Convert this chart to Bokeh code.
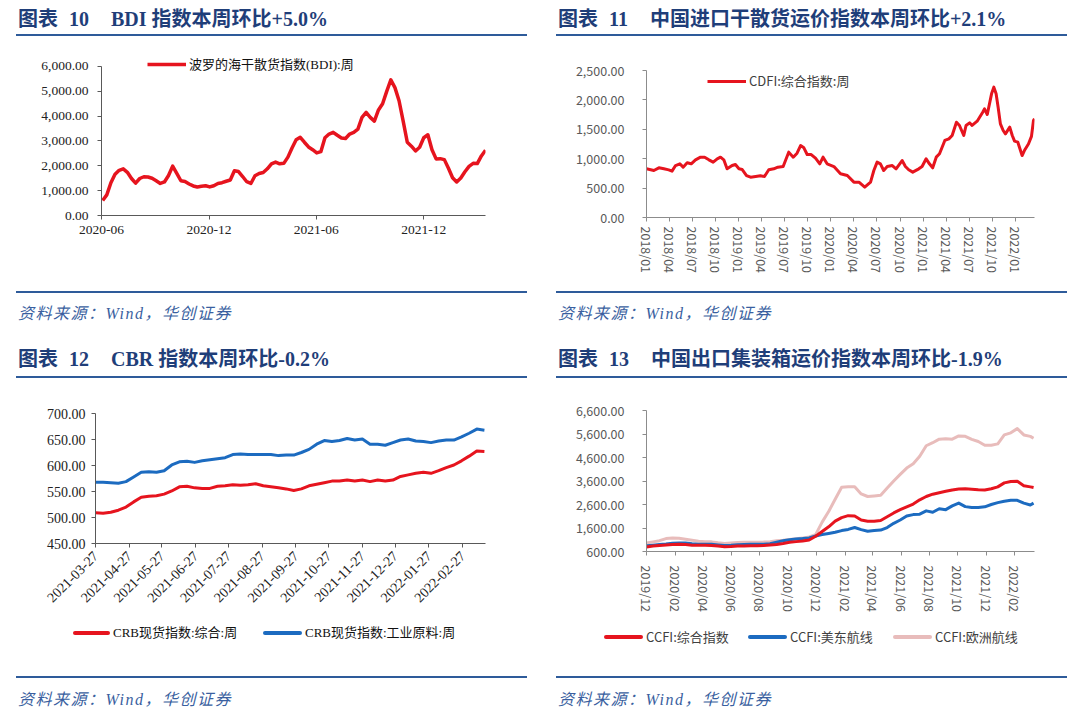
import math
import pandas as pd
from bokeh.plotting import figure
from bokeh.models import (Range1d, FixedTicker, NumeralTickFormatter, DatetimeTickFormatter,
                          Legend, LegendItem, Div)
from bokeh.layouts import column, row
from bokeh.embed import file_html
from bokeh.resources import INLINE

# ---------------- data ----------------
# Chart 10: BDI weekly
bdi_start = "2020-06-03"
bdi_values = [600, 830, 1320, 1660, 1820, 1880, 1740, 1490, 1300, 1490,
              1560, 1550, 1500, 1400, 1290, 1350, 1610, 1990, 1700, 1400,
              1370, 1270, 1190, 1150, 1180, 1200, 1150, 1200, 1290, 1320,
              1380, 1430, 1800, 1770, 1570, 1360, 1290, 1600, 1690, 1730,
              1880, 2080, 2150, 2080, 2100, 2350, 2720, 3050, 3150, 2950,
              2760, 2650, 2520, 2570, 3130, 3280, 3350, 3230, 3120, 3100,
              3280, 3350, 3480, 3950, 4150, 3950, 3800, 4250, 4500, 5000,
              5460, 5150, 4620, 3800, 2950, 2790, 2600, 2750, 3130, 3250,
              2650, 2280, 2290, 2250, 1900, 1520, 1350, 1510, 1760, 1980,
              2100, 2090, 2400, 2630]
bdi_ticks = ["2020-06-01", "2020-12-01", "2021-06-01", "2021-12-01"]

# Chart 11: CDFI (days since 2018-01-01, value)
cdfi_origin = "2018-01-01"
cdfi_days = [0, 29, 49, 69, 88, 101, 115, 132, 145, 161,
             177, 194, 214, 230, 247, 264, 280, 293, 306, 319,
             339, 352, 366, 379, 396, 412, 432, 451, 467, 484,
             504, 520, 541, 563, 581, 596, 610, 623, 636, 652,
             669, 686, 699, 715, 742, 768, 795, 821, 841, 864,
             887, 900, 913, 926, 939, 953, 973, 988, 1012, 1025,
             1038, 1054, 1078, 1091, 1107, 1120, 1133, 1147, 1160, 1181,
             1197, 1210, 1227, 1239, 1256, 1265, 1279, 1289, 1309, 1331,
             1338, 1349, 1366, 1375, 1384, 1392, 1401, 1412, 1421, 1438,
             1448, 1457, 1470, 1487, 1496, 1512, 1524, 1532, 1536]
cdfi_values = [828, 800, 845, 828, 810, 788, 884, 913, 856, 930,
               913, 981, 1026, 1026, 981, 941, 998, 1026, 981, 828,
               884, 901, 828, 816, 714, 686, 697, 709, 697, 811,
               828, 856, 867, 1111, 1026, 1094, 1224, 1185, 1071, 1071,
               1009, 913, 1026, 913, 867, 743, 714, 601, 601, 516,
               601, 799, 941, 913, 799, 867, 884, 828, 969, 867,
               811, 771, 828, 867, 998, 913, 845, 1026, 1083, 1310,
               1338, 1395, 1621, 1565, 1395, 1565, 1610, 1565, 1638, 1791,
               1848, 1752, 2103, 2217, 2103, 1876, 1593, 1480, 1423, 1536,
               1395, 1298, 1281, 1054, 1139, 1250, 1380, 1650, 1680]
cdfi_ticks = ["2018-01-01", "2018-04-01", "2018-07-01", "2018-10-01",
              "2019-01-01", "2019-04-01", "2019-07-01", "2019-10-01",
              "2020-01-01", "2020-04-01", "2020-07-01", "2020-10-01",
              "2021-01-01", "2021-04-01", "2021-07-01", "2021-10-01",
              "2022-01-01"]

# Chart 12: CRB weekly
crb_start = "2021-03-27"
crb_all = [509, 508, 510, 514, 520, 530, 539, 541, 542, 545,
           551, 559, 560, 557, 556, 556, 560, 561, 563, 562,
           563, 565, 561, 559, 557, 555, 552, 555, 561, 564,
           567, 570, 570, 572, 570, 572, 569, 572, 570, 572,
           579, 582, 585, 587, 585, 590, 596, 601, 609, 618,
           628, 627]
crb_ind = [568, 568, 567, 566, 569, 578, 587, 588, 587, 590,
           601, 607, 608, 606, 609, 611, 613, 615, 621, 622,
           621, 621, 621, 621, 619, 620, 620, 625, 631, 641,
           648, 646, 648, 652, 649, 651, 641, 641, 639, 644,
           649, 651, 647, 646, 644, 647, 649, 649, 655, 662,
           670, 668]
crb_ticks = ["2021-03-27", "2021-04-27", "2021-05-27", "2021-06-27",
             "2021-07-27", "2021-08-27", "2021-09-27", "2021-10-27",
             "2021-11-27", "2021-12-27", "2022-01-27", "2022-02-27"]
crb_labels = ["CRB现货指数:综合:周", "CRB现货指数:工业原料:周"]

# Chart 13: CCFI biweekly + last week
ccfi_start = "2019-12-06"
ccfi_last = "2022-03-18"
ccfi_comp = [790, 830, 860, 880, 900, 905, 895, 870, 866, 866,
             860, 830, 800, 810, 830, 838, 840, 845, 860, 880,
             900, 940, 990, 1020, 1050, 1090, 1250, 1450, 1650,
             1890, 2040, 2125, 2110, 1940, 1890, 1885, 1920, 2080, 2240,
             2380, 2500, 2620, 2800, 2940, 3040, 3100, 3160, 3220, 3255,
             3270, 3250, 3230, 3220, 3270, 3350, 3520, 3580, 3590, 3400,
             3350, 3320]
ccfi_useast = [840, 870, 900, 920, 950, 965, 960, 930, 910, 905,
               905, 880, 860, 870, 890, 900, 905, 905, 910, 930,
               1000, 1060, 1100, 1130, 1150, 1180, 1260, 1320, 1370,
               1420, 1490, 1540, 1620, 1530, 1460, 1490, 1510, 1620, 1800,
               1940, 2110, 2170, 2190, 2330, 2270, 2420, 2380, 2540, 2660,
               2510, 2475, 2475, 2500, 2600, 2680, 2740, 2780, 2780, 2660,
               2580, 2660]
ccfi_europe = [960, 1010, 1060, 1150, 1175, 1160, 1120, 1080, 1040, 1020,
               1010, 970, 940, 960, 980, 990, 990, 995, 1000, 1020,
               1060, 1080, 1110, 1140, 1170, 1220, 1320, 1850, 2300,
               2825, 3330, 3356, 3356, 3050, 2940, 2964, 2990, 3300, 3600,
               3880, 4150, 4330, 4650, 5100, 5230, 5380, 5400, 5380, 5520,
               5500, 5370, 5280, 5120, 5120, 5180, 5560, 5650, 5830, 5560,
               5500, 5420]
ccfi_ticks = ["2019-12-06", "2020-02-06", "2020-04-06", "2020-06-06",
              "2020-08-06", "2020-10-06", "2020-12-06", "2021-02-06",
              "2021-04-06", "2021-06-06", "2021-08-06", "2021-10-06",
              "2021-12-06", "2022-02-06"]
ccfi_labels = ["CCFI:综合指数", "CCFI:美东航线", "CCFI:欧洲航线"]

titles = [("图表", "10", "BDI 指数本周环比+5.0%"),
          ("图表", "11", "中国进口干散货运价指数本周环比+2.1%"),
          ("图表", "12", "CBR 指数本周环比-0.2%"),
          ("图表", "13", "中国出口集装箱运价指数本周环比-1.9%")]
source_text = "资料来源：Wind，华创证券"

# ---------------- styles ----------------
RED = "#E6141E"
BLUE = "#1C6BC0"
PINK = "#E8BCBB"
NAVY = "#1F3E79"
RULE = "#2E5B9A"
SRC = "#3A5FA0"
SERIF = "Liberation Serif, Noto Sans CJK SC"
SANS = "Noto Sans CJK SC"


def ms(d):
    return pd.Timestamp(d).value // 10**6


def dfmt(f):
    return DatetimeTickFormatter(microseconds=f, milliseconds=f, seconds=f, minsec=f,
                                 minutes=f, hourmin=f, hours=f, days=f, months=f, years=f)


def make_fig(w, h, bl, br, bt, bb, xr, yr):
    p = figure(width=w, height=h, x_axis_type="datetime", x_range=xr, y_range=yr,
               output_backend="svg", toolbar_location=None,
               min_border_left=bl, min_border_right=br, min_border_top=bt, min_border_bottom=bb)
    p.margin = 0
    p.outline_line_color = None
    p.xgrid.visible = False
    p.ygrid.visible = False
    return p


def style_axes(p, font, size, color, axis_color, xstand, ystand):
    for ax in (p.xaxis[0], p.yaxis[0]):
        ax.axis_line_color = axis_color
        ax.axis_line_width = 1
        ax.major_tick_line_color = axis_color
        ax.minor_tick_line_color = None
        ax.major_tick_in = 0
        ax.major_tick_out = 4
        ax.major_label_text_font = font
        ax.major_label_text_font_size = size
        ax.major_label_text_color = color
    p.xaxis[0].major_label_standoff = xstand
    p.yaxis[0].major_label_standoff = ystand


def add_legend(p, label, r, vx, vy, font, color):
    lg = Legend(items=[LegendItem(label=label, renderers=[r])], location=(vx, vy),
                orientation="horizontal", background_fill_alpha=0, border_line_alpha=0,
                padding=0, margin=0, spacing=0, glyph_width=39, glyph_height=16,
                label_height=16, label_standoff=3, label_text_font=font,
                label_text_font_size="13px", label_text_color=color)
    p.add_layout(lg, "center")


def html_legend(w, h, cy, items, font, tcolor):
    parts = [f'<div style="position:relative;width:{w}px;height:{h}px;">']
    for label, color, x, gw in items:
        parts.append(f'<div style="position:absolute;left:{x}px;top:{cy - 2}px;width:{gw}px;'
                     f'height:4px;border-radius:2px;background:{color};"></div>')
        parts.append(f'<div style="position:absolute;left:{x + gw + 3}px;top:{cy - 10}px;'
                     f'line-height:20px;font-family:{font};font-size:13px;color:{tcolor};'
                     f'white-space:nowrap;">{label}</div>')
    parts.append('</div>')
    return Div(text="".join(parts), width=w, height=h, margin=0)


def header(t, w, h, tl, tt, ll, lt):
    html = (f'<div style="position:relative;width:{w}px;height:{h}px;">'
            f'<div style="position:absolute;left:{tl}px;top:{tt}px;line-height:20px;'
            f'font-family:{SERIF};font-weight:bold;font-size:20px;color:{NAVY};white-space:nowrap;">'
            f'{t[0]}<span style="display:inline-block;width:11px"></span>{t[1]}'
            f'<span style="display:inline-block;width:22px"></span>{t[2]}</div>'
            f'<div style="position:absolute;left:{ll}px;top:{lt}px;width:511px;height:2px;background:{RULE};"></div>'
            f'</div>')
    return Div(text=html, width=w, height=h, margin=0)


def source(w, h, ll, lt, tl, tt):
    html = (f'<div style="position:relative;width:{w}px;height:{h}px;">'
            f'<div style="position:absolute;left:{ll}px;top:{lt}px;width:511px;height:2px;background:{RULE};"></div>'
            f'<div style="position:absolute;left:{tl}px;top:{tt}px;line-height:20px;'
            f'font-family:{SERIF};font-style:italic;font-size:16px;letter-spacing:1.5px;color:{SRC};white-space:nowrap;">'
            f'{source_text}</div></div>')
    return Div(text=html, width=w, height=h, margin=0)


# ---------------- chart 10: BDI ----------------
bdi_dates = pd.date_range(bdi_start, periods=len(bdi_values), freq="7D")
p1 = make_fig(532, 245, 93, 55, 11, 70,
              Range1d(pd.Timestamp("2020-06-01"), bdi_dates[-1]), Range1d(0, 6604))
r1 = p1.line(bdi_dates, bdi_values, line_color=RED, line_width=3.5, line_join="round")
p1.yaxis.ticker = FixedTicker(ticks=list(range(0, 6001, 1000)))
p1.yaxis.bounds = (0, 6000)
p1.yaxis.formatter = NumeralTickFormatter(format="0,0.00")
p1.xaxis.ticker = FixedTicker(ticks=[ms(d) for d in bdi_ticks])
p1.xaxis.formatter = dfmt("%Y-%m")
style_axes(p1, SERIF, "13.5px", "#222222", "#595959", 6, 9)
add_legend(p1, "波罗的海干散货指数(BDI):周", r1, 46, 142, SERIF, "#111111")

# ---------------- chart 11: CDFI ----------------
cdfi_dates = pd.Timestamp(cdfi_origin) + pd.to_timedelta(cdfi_days, unit="D")
p2 = make_fig(532, 245, 106, 38, 30, 68,
              Range1d(pd.Timestamp(cdfi_origin), cdfi_dates[-1]), Range1d(0, 2500))
r2 = p2.line(cdfi_dates, cdfi_values, line_color=RED, line_width=3, line_join="round")
p2.yaxis.ticker = FixedTicker(ticks=list(range(0, 2501, 500)))
p2.yaxis.formatter = NumeralTickFormatter(format="0,0.00")
p2.xaxis.ticker = FixedTicker(ticks=[ms(d) for d in cdfi_ticks])
p2.xaxis.formatter = dfmt("%Y/%m")
p2.xaxis.major_label_orientation = -math.pi / 2
style_axes(p2, SANS, "12.5px", "#595959", "#8c8c8c", 5, 18)
add_legend(p2, "CDFI:综合指数:周", r2, 61, 127, SANS, "#404040")

# ---------------- chart 12: CRB ----------------
crb_dates = pd.date_range(crb_start, periods=len(crb_all), freq="7D")
p3 = make_fig(532, 233, 87, 55, 31, 72,
              Range1d(pd.Timestamp(crb_start), pd.Timestamp("2022-03-20")), Range1d(450, 700))
p3.line(crb_dates, crb_all, line_color=RED, line_width=3, line_join="round")
p3.line(crb_dates, crb_ind, line_color=BLUE, line_width=3, line_join="round")
p3.yaxis.ticker = FixedTicker(ticks=list(range(450, 701, 50)))
p3.yaxis.formatter = NumeralTickFormatter(format="0,0.00")
p3.xaxis.ticker = FixedTicker(ticks=[ms(d) for d in crb_ticks])
p3.xaxis.formatter = dfmt("%Y-%m-%d")
p3.xaxis.major_label_orientation = math.pi / 4
style_axes(p3, SERIF, "14px", "#222222", "#595959", 6, 6)
lg3 = html_legend(532, 53, 18, [(crb_labels[0], RED, 65, 37), (crb_labels[1], BLUE, 255, 39)],
                  SERIF, "#111111")

# ---------------- chart 13: CCFI ----------------
ccfi_dates = list(pd.date_range(ccfi_start, periods=len(ccfi_comp) - 1, freq="14D")) + [pd.Timestamp(ccfi_last)]
p4 = make_fig(532, 233, 106, 38, 28, 62,
              Range1d(pd.Timestamp(ccfi_start), pd.Timestamp("2022-03-20")), Range1d(600, 6600))
p4.line(ccfi_dates, ccfi_europe, line_color=PINK, line_width=3, line_join="round")
p4.line(ccfi_dates, ccfi_useast, line_color=BLUE, line_width=3, line_join="round")
p4.line(ccfi_dates, ccfi_comp, line_color=RED, line_width=3, line_join="round")
p4.yaxis.ticker = FixedTicker(ticks=list(range(600, 6601, 1000)))
p4.yaxis.formatter = NumeralTickFormatter(format="0,0.00")
p4.xaxis.ticker = FixedTicker(ticks=[ms(d) for d in ccfi_ticks])
p4.xaxis.formatter = dfmt("%Y/%m")
p4.xaxis.major_label_orientation = -math.pi / 2
style_axes(p4, SANS, "12.5px", "#595959", "#8c8c8c", 10, 18)
lg4 = html_legend(532, 53, 22, [(ccfi_labels[0], RED, 64, 39), (ccfi_labels[1], BLUE, 208, 39),
                                (ccfi_labels[2], PINK, 353, 39)], SANS, "#404040")

# ---------------- layout ----------------
left_top = column(header(titles[0], 532, 32, 10, 1, 8, 26), p1, source(532, 55, 8, 6, 10, 19),
                  spacing=0, margin=0)
right_top = column(header(titles[1], 532, 32, 18, 1, 16, 26), p2, source(532, 55, 16, 6, 18, 19),
                   spacing=0, margin=0)
left_bot = column(header(titles[2], 532, 42, 10, 9, 8, 36), p3, lg3, source(532, 51, 8, 8, 10, 22),
                  spacing=0, margin=0)
right_bot = column(header(titles[3], 532, 42, 18, 9, 16, 36), p4, lg4, source(532, 51, 16, 8, 18, 22),
                   spacing=0, margin=0)
page = column(row(left_top, right_top, spacing=0, margin=0),
              row(left_bot, right_bot, spacing=0, margin=0), spacing=0, margin=(8, 0, 0, 8))

open("out.html", "w").write(file_html(page, INLINE))
